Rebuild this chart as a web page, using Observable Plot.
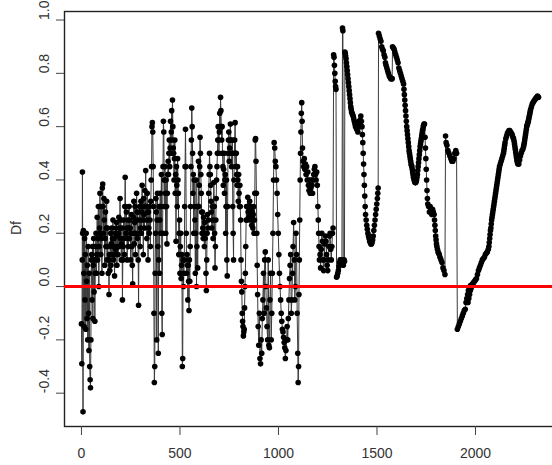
<!DOCTYPE html>
<html><head><meta charset="utf-8">
<script src="https://cdn.jsdelivr.net/npm/d3@7"></script>
<script src="https://cdn.jsdelivr.net/npm/@observablehq/plot@0.6"></script>
<style>html,body{margin:0;padding:0;background:#fff;overflow:hidden;} svg{display:block;overflow:hidden}</style>
</head><body><div id="chart"></div>
<script>
const segA = [[0,-0.14],[2,-0.29],[4,0.1],[5,0.43],[6,0.2],[8,-0.47],[10,0.21],[12,0.05],[14,-0.15],[16,0.18],[18,-0.05],[20,0.12],[22,-0.16],[24,0.2],[26,0.02],[28,-0.12],[30,0.08],[32,-0.2],[34,0.15],[36,-0.1],[38,-0.24],[40,0.05],[42,-0.3],[44,-0.35],[46,-0.38],[48,-0.2],[50,0.1],[52,0.12],[54,-0.05],[56,0.15],[58,-0.12],[60,0.08],[62,0.18],[64,-0.02],[66,0.1],[68,-0.13],[70,0.05],[72,0.15],[74,0.2],[76,0.05],[78,0.12],[80,0.26],[82,0.1],[84,0.18],[86,0.3],[88,0.0],[90,0.15],[92,0.22],[94,0.35],[96,0.2],[98,0.12],[100,0.3],[102,0.18],[104,0.05],[106,0.37],[108,0.385],[110,0.3],[112,0.2],[114,0.33],[116,0.25],[118,0.08],[120,0.18],[122,0.28],[124,0.15],[126,0.22],[128,0.32],[130,0.1],[132,0.22],[134,0.15],[136,0.05],[138,0.1],[140,-0.03],[142,0.12],[144,0.06],[146,0.15],[148,0.2],[150,0.08],[152,0.16],[154,0.22],[156,0.12],[158,0.18],[160,0.25],[162,0.1],[164,0.15],[166,0.18],[168,0.04],[170,0.12],[172,0.2],[174,0.14],[176,0.22],[178,0.24],[180,0.08],[182,0.15],[184,0.19],[186,0.12],[188,0.2],[190,0.26],[192,0.15],[194,0.22],[196,0.33],[198,0.18],[200,0.25],[202,0.1],[204,0.16],[206,0.22],[208,-0.05],[210,0.1],[212,0.15],[214,0.25],[216,0.18],[218,0.12],[220,0.3],[222,0.41],[224,0.3],[226,0.2],[228,0.28],[230,0.22],[232,0.1],[234,0.18],[236,0.25],[238,0.15],[240,0.22],[242,0.3],[244,0.18],[246,0.25],[248,0.22],[250,0.1],[252,0.2],[254,0.27],[256,0.15],[258,0.08],[260,0.01],[262,0.2],[264,0.26],[266,0.32],[268,0.16],[270,0.24],[272,0.3],[274,0.12],[276,0.2],[278,0.25],[280,0.35],[282,0.28],[284,0.18],[286,0.28],[288,0.1],[290,-0.07],[292,0.2],[294,0.25],[296,0.3],[298,0.15],[300,0.22],[302,0.32],[304,0.2],[306,0.28],[308,0.38],[310,0.25],[312,0.3],[314,0.12],[316,0.33],[318,0.27],[320,0.22],[322,0.36],[324,0.3],[326,0.435],[328,0.3],[330,0.25],[332,0.18],[334,0.35],[336,0.28],[338,0.1],[340,0.28],[342,0.22],[344,0.2],[346,0.3],[348,0.25],[350,0.15],[352,0.32],[354,0.4],[356,0.45],[358,0.6],[360,0.615],[362,0.58],[364,0.45],[366,0.3],[368,-0.1],[370,-0.36],[372,-0.3],[374,0.05],[376,0.2],[378,0.33],[380,0.28],[382,-0.2],[384,0.25],[386,0.35],[388,0.15],[390,-0.25],[392,0.1],[394,0.3],[396,0.05],[398,0.25],[400,0.35],[402,0.2],[404,0.3],[406,0.42],[408,-0.1],[410,-0.18],[412,0.2],[414,0.45],[416,0.62],[418,0.58],[420,0.4],[422,0.3],[424,0.45],[426,0.35],[428,0.2],[430,0.4],[432,0.3],[434,0.16],[436,0.35],[438,0.42],[440,0.47],[442,0.42],[444,0.5],[446,0.55],[448,0.45],[450,0.52],[452,0.62],[454,0.5],[456,0.58],[458,0.66],[460,0.55],[462,0.7],[464,0.6],[466,0.52],[468,0.5],[470,0.4],[472,0.48],[474,0.55],[476,0.35],[478,0.42],[480,0.17],[482,0.45],[484,0.38],[486,0.3],[488,0.48],[490,0.4],[492,0.35],[494,0.12],[496,0.2],[498,0.25],[500,0.05],[502,0.15],[504,0.2],[506,0.03],[508,0.08],[510,0.12],[512,-0.3],[514,-0.27],[516,0.1],[518,0.0],[520,0.05],[522,0.1],[524,0.3],[526,0.45],[528,0.59],[530,0.45],[532,0.2],[534,0.05],[536,0.12],[538,0.08],[540,-0.05],[542,0.08],[544,0.02],[546,-0.09],[548,0.1],[550,0.02]];
const segB = [[552,0.15],[554,0.3],[556,0.45],[558,0.55],[560,0.67],[562,0.6],[564,0.5],[566,0.35],[568,0.42],[570,0.2],[572,0.4],[574,0.3],[576,0.25],[578,0.05],[580,0.2],[582,0.4],[584,0.0],[586,0.15],[588,0.3],[590,0.07],[592,0.3],[594,0.47],[596,0.3],[598,0.38],[600,0.45],[602,0.56],[604,0.5],[606,0.42],[608,0.35],[610,0.28],[612,0.2],[614,0.28],[616,0.22],[618,0.18],[620,0.26],[622,0.2],[624,0.15],[626,0.24],[628,0.18],[630,0.2],[632,0.05],[634,-0.015],[636,0.1],[638,0.2],[640,0.27],[642,0.22],[644,0.25],[646,0.35],[648,0.42],[650,0.5],[652,0.45],[654,0.42],[656,0.38],[658,0.32],[660,0.28],[662,0.22],[664,0.3],[666,0.25],[668,0.18],[670,0.3],[672,0.39],[674,0.3],[676,0.2],[678,0.07],[680,0.15],[682,0.25],[684,0.33],[686,0.4],[688,0.45],[690,0.5],[692,0.55],[694,0.6],[696,0.55],[698,0.5],[700,0.58],[702,0.65],[704,0.6],[706,0.71],[708,0.66],[710,0.6],[712,0.55],[714,0.6],[716,0.5],[718,0.45],[720,0.38],[722,0.44],[724,0.5],[726,0.35],[728,0.4],[730,0.42],[732,0.2],[734,0.3],[736,0.4],[738,0.1],[740,0.04],[742,0.3],[744,0.5],[746,0.55],[748,0.58],[750,0.47],[752,0.52],[754,0.55],[756,0.61],[758,0.55],[760,0.5],[762,0.45],[764,0.5],[766,0.55],[768,0.3],[770,0.2],[772,0.1],[774,0.4],[776,0.5],[778,0.55],[780,0.615],[782,0.5],[784,0.45],[786,0.5],[788,0.42],[790,0.38],[792,0.45],[794,0.4],[796,0.32],[798,0.42],[800,0.35],[802,0.3],[804,0.38],[806,0.3],[808,0.25],[810,0.1],[812,0.02],[814,-0.02],[816,-0.1],[818,-0.13],[820,-0.15],[822,-0.185],[824,-0.17],[826,-0.16],[828,-0.08],[830,0.0],[832,0.05],[834,0.15],[836,0.25],[838,0.3],[840,0.25],[842,0.3],[844,0.335],[846,0.28],[848,0.3],[850,0.26],[852,0.28],[854,0.32],[856,0.25],[858,0.29],[860,0.3],[862,0.26],[864,0.23],[866,0.28],[868,0.25],[870,0.22],[872,0.27],[874,0.3],[876,0.2],[878,0.25],[880,0.35],[882,0.55],[884,0.555],[886,0.47],[888,0.35],[890,0.2],[892,0.08],[894,-0.03],[897,-0.15],[900,-0.22],[903,-0.1],[906,-0.27],[909,-0.29],[912,-0.2],[915,-0.25],[918,-0.12],[921,-0.05],[924,0.05],[927,-0.1],[930,0.1],[933,0.13],[936,0.0],[939,-0.08],[942,-0.15],[945,-0.2],[948,0.1],[951,-0.22],[954,-0.23],[957,-0.05],[960,0.05],[963,-0.2],[966,-0.1],[969,0.05],[972,0.2],[975,0.4],[978,0.54],[981,0.52],[984,0.47],[987,0.45],[990,0.4],[993,0.35],[996,0.27],[999,0.2],[1002,0.12],[1005,0.05],[1008,0.0],[1011,-0.05],[1014,-0.1],[1017,-0.13],[1020,-0.16],[1023,-0.17],[1026,-0.19],[1029,-0.21],[1032,-0.23],[1035,-0.27],[1038,-0.24],[1041,-0.2],[1044,-0.15],[1047,-0.2],[1050,-0.12],[1053,-0.05],[1056,0.03],[1059,0.08],[1062,0.12],[1065,-0.1],[1068,-0.05],[1071,0.05],[1074,0.15],[1077,0.24],[1080,0.1],[1083,-0.05],[1086,0.0],[1089,0.2],[1092,0.12],[1095,-0.1],[1098,-0.25],[1100,-0.36],[1102,-0.3]];
const segC = [[1104,-0.03],[1106,0.1],[1108,0.25],[1110,0.4],[1112,0.5],[1114,0.58],[1116,0.65],[1118,0.69],[1120,0.62],[1122,0.52],[1125,0.47],[1128,0.45],[1131,0.48],[1134,0.44],[1137,0.46],[1140,0.42],[1143,0.45],[1146,0.4],[1149,0.43],[1152,0.38],[1155,0.36],[1158,0.4],[1161,0.35],[1164,0.37],[1167,0.4],[1170,0.38],[1173,0.35],[1176,0.4],[1179,0.42],[1182,0.44],[1185,0.45],[1188,0.42],[1191,0.4],[1194,0.43],[1197,0.38],[1200,0.3],[1202,0.25],[1204,0.2],[1206,0.15],[1208,0.1],[1211,0.12],[1214,0.07],[1217,0.14],[1220,0.2],[1223,0.17],[1226,0.1],[1229,0.06],[1232,0.1],[1235,0.16],[1238,0.19],[1241,0.17],[1244,0.12],[1247,0.08],[1250,0.06],[1253,0.1],[1256,0.15],[1259,0.19],[1262,0.2],[1265,0.14],[1268,0.1],[1271,0.15],[1274,0.2],[1277,0.22],[1280,0.87],[1282,0.86],[1284,0.83],[1286,0.8],[1288,0.77],[1290,0.75],[1292,0.74],[1295,0.035],[1298,0.04],[1301,0.05],[1304,0.06],[1307,0.075],[1310,0.09],[1313,0.1],[1316,0.095],[1319,0.09],[1322,0.1],[1325,0.97],[1327,0.96],[1329,0.08],[1331,0.09],[1333,0.1],[1335,0.095],[1337,0.88],[1339,0.875],[1341,0.865],[1343,0.855],[1345,0.84],[1347,0.825],[1349,0.81],[1351,0.795],[1353,0.78],[1355,0.765],[1357,0.75],[1359,0.735],[1361,0.72],[1363,0.705],[1365,0.69],[1367,0.675],[1369,0.665],[1371,0.655],[1374,0.65],[1376,0.645],[1379,0.64],[1382,0.63],[1385,0.62],[1388,0.61],[1391,0.6],[1394,0.605],[1397,0.59],[1400,0.6],[1403,0.58],[1406,0.6],[1409,0.62],[1412,0.6],[1415,0.625],[1418,0.64],[1421,0.62],[1424,0.6],[1426,0.57],[1428,0.54],[1430,0.5],[1432,0.46],[1434,0.42],[1436,0.38],[1438,0.34],[1440,0.3],[1442,0.27],[1445,0.25],[1448,0.23],[1451,0.215],[1454,0.2],[1457,0.19],[1460,0.18],[1463,0.17],[1466,0.165],[1469,0.16],[1472,0.16],[1475,0.165],[1478,0.175],[1481,0.19],[1484,0.21],[1487,0.23],[1490,0.25],[1493,0.27],[1496,0.29],[1499,0.31],[1502,0.33],[1504,0.35],[1506,0.37]];
const segD = [[1508,0.95],[1512,0.94],[1516,0.93],[1520,0.92],[1524,0.9],[1528,0.89],[1532,0.885],[1536,0.87],[1540,0.86],[1543,0.84],[1546,0.83],[1550,0.82],[1554,0.81],[1558,0.8],[1562,0.79],[1566,0.785],[1570,0.78],[1574,0.78],[1577,0.78],[1579,0.9],[1583,0.895],[1587,0.89],[1591,0.88],[1595,0.87],[1599,0.86],[1603,0.85],[1607,0.84],[1611,0.82],[1615,0.81],[1619,0.8],[1623,0.79],[1627,0.78],[1631,0.77],[1635,0.76],[1637,0.74],[1639,0.72],[1641,0.7],[1643,0.68],[1645,0.66],[1647,0.64],[1649,0.62],[1651,0.6],[1653,0.585],[1655,0.57],[1657,0.555],[1659,0.54],[1661,0.525],[1663,0.51],[1665,0.5],[1667,0.49],[1669,0.48],[1671,0.47],[1673,0.46],[1675,0.455],[1677,0.45],[1679,0.44],[1681,0.43],[1683,0.42],[1685,0.41],[1687,0.405],[1689,0.4],[1691,0.395],[1693,0.39],[1695,0.39],[1697,0.39],[1699,0.395],[1701,0.4],[1703,0.41],[1705,0.42],[1707,0.435],[1709,0.45],[1711,0.465],[1713,0.48],[1715,0.495],[1717,0.51],[1719,0.525],[1721,0.535],[1723,0.545],[1725,0.555],[1727,0.565],[1729,0.575],[1731,0.585],[1733,0.59],[1735,0.6],[1737,0.605],[1739,0.61],[1741,0.61],[1744,0.56],[1746,0.52],[1748,0.48],[1750,0.44],[1752,0.4],[1754,0.36],[1756,0.33],[1758,0.31],[1762,0.3],[1766,0.28],[1770,0.3],[1774,0.29],[1778,0.27],[1782,0.29],[1786,0.28],[1790,0.27],[1792,0.25],[1794,0.23],[1796,0.21],[1798,0.19],[1800,0.175],[1802,0.16],[1804,0.15],[1807,0.14],[1810,0.13],[1813,0.125],[1816,0.12],[1820,0.11],[1825,0.1],[1830,0.09],[1835,0.07],[1840,0.06],[1845,0.045],[1848,0.565],[1851,0.54],[1855,0.53],[1860,0.51],[1865,0.5],[1870,0.49],[1875,0.48],[1880,0.47],[1885,0.47],[1890,0.48],[1895,0.5],[1900,0.51],[1904,0.5],[1908,-0.16],[1913,-0.15],[1918,-0.14],[1923,-0.13],[1928,-0.12],[1933,-0.11],[1938,-0.1],[1943,-0.09],[1948,-0.085],[1952,-0.06],[1956,-0.045],[1960,-0.03],[1964,-0.015],[1968,-0.005],[1972,0.0],[1976,0.005],[1962,-0.06],[1966,-0.045],[1970,-0.03],[1974,-0.015],[1978,-0.005],[1982,0.005],[1986,0.01],[1990,0.015],[1995,0.02],[2000,0.025],[2005,0.03],[2010,0.045],[2015,0.06],[2020,0.07],[2025,0.08],[2030,0.09],[2035,0.1],[2040,0.105],[2045,0.11],[2050,0.12],[2055,0.125],[2060,0.13],[2065,0.14],[2068,0.15],[2070,0.165],[2072,0.18],[2074,0.195],[2076,0.21],[2078,0.22],[2080,0.235],[2082,0.25],[2084,0.26],[2086,0.27],[2088,0.28],[2090,0.29],[2092,0.3],[2094,0.31],[2096,0.32],[2098,0.33],[2100,0.34],[2102,0.35],[2104,0.36],[2106,0.37],[2108,0.38],[2110,0.39],[2112,0.4],[2114,0.41],[2116,0.42],[2118,0.43],[2120,0.44],[2122,0.45],[2126,0.46],[2130,0.47],[2134,0.48],[2138,0.49],[2142,0.5],[2144,0.51],[2146,0.52],[2148,0.53],[2150,0.54],[2154,0.555],[2158,0.565],[2162,0.575],[2166,0.58],[2170,0.585],[2174,0.585],[2178,0.58],[2182,0.575],[2186,0.57],[2190,0.56],[2193,0.555],[2196,0.545],[2198,0.535],[2200,0.525],[2202,0.515],[2204,0.505],[2206,0.495],[2208,0.485],[2210,0.475],[2212,0.468],[2214,0.462],[2216,0.46],[2220,0.46],[2224,0.475],[2228,0.49],[2232,0.5],[2236,0.51],[2240,0.515],[2244,0.525],[2246,0.533],[2248,0.54],[2250,0.55],[2252,0.56],[2254,0.57],[2256,0.58],[2258,0.59],[2260,0.6],[2262,0.605],[2264,0.61],[2266,0.615],[2268,0.62],[2270,0.628],[2272,0.635],[2274,0.643],[2276,0.65],[2278,0.658],[2280,0.665],[2284,0.675],[2288,0.685],[2292,0.69],[2296,0.695],[2300,0.7],[2305,0.705],[2310,0.71],[2315,0.715],[2320,0.71]];

const xTicks = [0, 500, 1000, 1500, 2000];
const yTicks = [-0.4, -0.2, 0.0, 0.2, 0.4, 0.6, 0.8, 1.0];
const yLabel = "Df";
const xDomain = [-86, 2401];
const yDomain = [-0.525, 1.032];

const data = [...segA, ...segB, ...segC, ...segD].map(([t, v]) => ({t, v}));
const font = "'Liberation Sans', Arial, Helvetica, sans-serif";

const chart = Plot.plot({
  width: 552, height: 465,
  marginLeft: 64, marginTop: 11, marginBottom: 39, marginRight: -2,
  style: {fontFamily: font, fontSize: "13px", color: "#333", background: "#fff", overflow: "hidden"},
  x: {domain: xDomain},
  y: {domain: yDomain},
  marks: [
    Plot.frame({stroke: "#222", strokeWidth: 1.4}),
    Plot.axisX({ticks: xTicks, tickSize: 9, tickPadding: 13, label: null, fontSize: 14, stroke: "#444", tickFormat: d => String(d)}),
    Plot.axisY({ticks: yTicks, tickSize: 8, label: null, stroke: "#444", tickFormat: () => ""}),
    Plot.text(yTicks, {y: d => d, frameAnchor: "left", dx: -20, rotate: -90, text: d => d.toFixed(1), fontSize: 14, fill: "#333"}),
    Plot.text([yLabel], {frameAnchor: "left", dx: -48, dy: 16, rotate: -90, text: d => d, fontSize: 14, fill: "#333"}),
    Plot.line(data, {x: "t", y: "v", stroke: "#3a3a3a", strokeWidth: 1}),
    Plot.dot(data, {x: "t", y: "v", r: 2.8, fill: "#000", stroke: "none"}),
    Plot.ruleY([0], {stroke: "#f00", strokeWidth: 3})
  ]
});
document.getElementById("chart").appendChild(chart);
</script>
</body></html>
